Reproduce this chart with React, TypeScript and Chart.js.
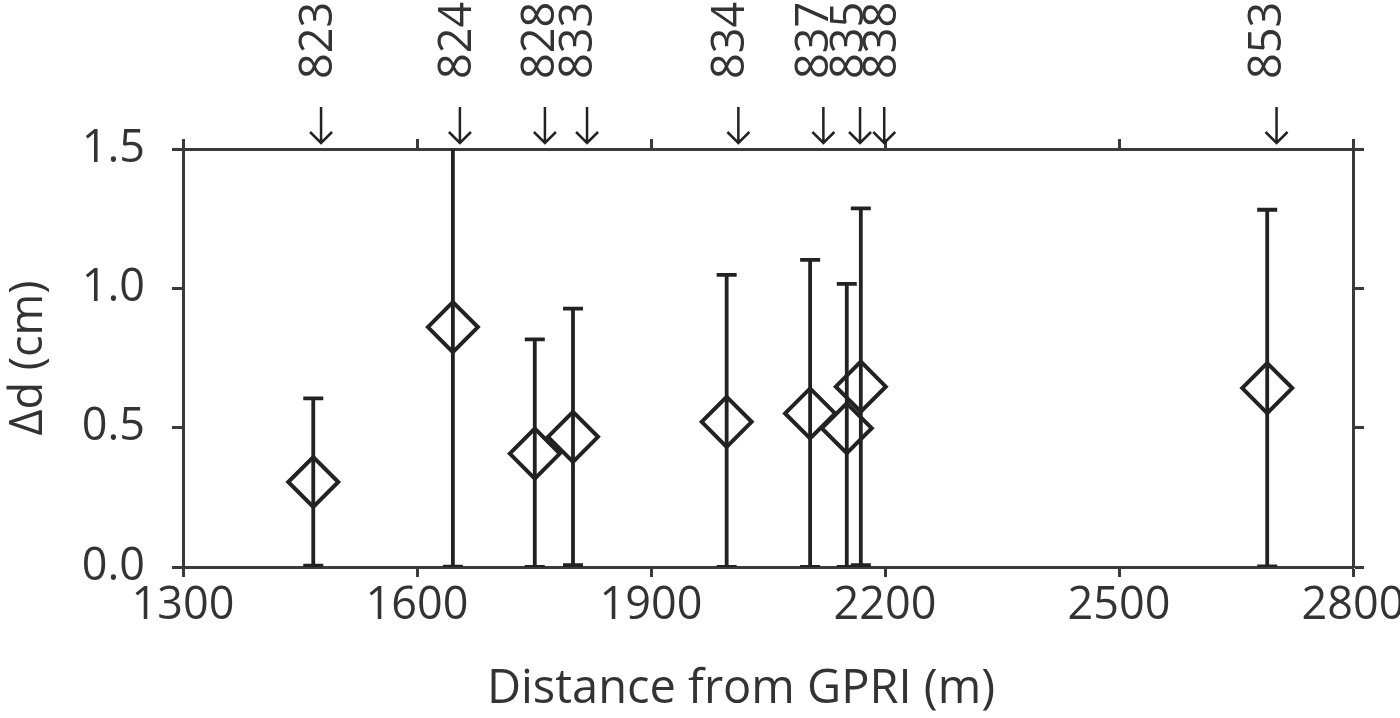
import { useEffect, useRef } from 'react';
import { Chart, registerables } from 'chart.js';

Chart.register(...registerables);

// ---- data ----
const distances = [1467, 1646, 1751, 1800, 1997, 2104, 2151, 2169, 2690];
const deltaD = [0.305, 0.861, 0.407, 0.467, 0.521, 0.551, 0.498, 0.647, 0.642];
const deltaDErr = [0.3, 0.86, 0.41, 0.46, 0.527, 0.551, 0.518, 0.64, 0.64];
const markerIds = ['823', '824', '828', '833', '834', '837', '835', '838', '853'];
const markerArrowDist = [1477, 1655, 1764, 1818, 2012, 2121, 2168, 2199, 2702];
const markerLabelDist = [1470, 1648, 1755, 1804, 1999, 2106, 2151, 2194, 2687];
const xTicks = [1300, 1600, 1900, 2200, 2500, 2800];
const yTicks = [0, 0.5, 1.0, 1.5];
const xTitle = 'Distance from GPRI (m)';
const yTitle = 'Δd (cm)';

const FONT = '"Open Sans", "DejaVu Sans", sans-serif';
const FS = 45;
const FS_X = 45;
const FS_XT = 47;
const TEXT = '#333333';
const AXIS = '#3a3a3a';
const MARK = '#222222';

const errorBars = {
  id: 'errorBars',
  beforeDatasetsDraw(chart: any) {
    const { ctx, chartArea: a, scales } = chart;
    const x = scales.x;
    const y = scales.y;
    ctx.save();
    ctx.beginPath();
    ctx.rect(a.left, a.top, a.right - a.left, a.bottom - a.top);
    ctx.clip();
    ctx.strokeStyle = MARK;
    ctx.lineWidth = 3.8;
    distances.forEach((d, i) => {
      const px = x.getPixelForValue(d);
      const top = y.getPixelForValue(deltaD[i] + deltaDErr[i]);
      const bot = y.getPixelForValue(Math.max(0, deltaD[i] - deltaDErr[i]));
      ctx.beginPath();
      ctx.moveTo(px, top);
      ctx.lineTo(px, bot);
      ctx.moveTo(px - 10, top);
      ctx.lineTo(px + 10, top);
      ctx.moveTo(px - 10, bot);
      ctx.lineTo(px + 10, bot);
      ctx.stroke();
    });
    ctx.restore();
  },
};

const annotations = {
  id: 'annotations',
  afterDraw(chart: any) {
    const { ctx, chartArea: a, scales } = chart;
    const x = scales.x;
    ctx.save();
    ctx.strokeStyle = MARK;
    ctx.fillStyle = TEXT;
    ctx.lineWidth = 2.5;
    markerArrowDist.forEach((d) => {
      const px = x.getPixelForValue(d);
      ctx.beginPath();
      ctx.moveTo(px, a.top - 42);
      ctx.lineTo(px, a.top - 6);
      ctx.moveTo(px - 11, a.top - 17);
      ctx.lineTo(px, a.top - 6);
      ctx.lineTo(px + 11, a.top - 17);
      ctx.stroke();
    });
    ctx.font = `${FS}px ${FONT}`;
    ctx.textAlign = 'left';
    ctx.textBaseline = 'alphabetic';
    markerIds.forEach((id, i) => {
      const px = x.getPixelForValue(markerLabelDist[i]);
      ctx.save();
      ctx.translate(px + 0.357 * FS, a.top - 70);
      ctx.rotate(-Math.PI / 2);
      ctx.fillText(id, 0, 0);
      ctx.restore();
    });
    // x-axis title
    ctx.font = `${FS_XT}px ${FONT}`;
    ctx.textAlign = 'center';
    ctx.textBaseline = 'middle';
    ctx.fillText(xTitle, (a.left + a.right) / 2 - 27, 690);
    ctx.restore();
  },
};

function hScale(position: 'top' | 'bottom', showLabels: boolean, size: number) {
  return {
    type: 'linear' as const,
    position,
    min: 1300,
    max: 2800,
    afterBuildTicks: (s: any) => {
      s.ticks = xTicks.map((v) => ({ value: v }));
    },
    afterFit: (s: any) => {
      s.height = size;
      s.paddingLeft = 0;
      s.paddingRight = 0;
    },
    grid: {
      display: true,
      drawOnChartArea: false,
      drawTicks: true,
      tickLength: 10,
      tickWidth: 3,
      tickColor: AXIS,
    },
    border: { display: true, color: AXIS, width: 3 },
    ticks: {
      display: showLabels,
      font: { family: FONT, size: FS_X },
      color: TEXT,
      padding: 2,
      maxRotation: 0,
      autoSkip: false,
      callback: (v: any) => String(v),
    },
  };
}

function vScale(position: 'left' | 'right', showLabels: boolean, size: number) {
  return {
    type: 'linear' as const,
    position,
    min: 0,
    max: 1.5,
    afterBuildTicks: (s: any) => {
      s.ticks = yTicks.map((v) => ({ value: v }));
    },
    afterFit: (s: any) => {
      s.width = size;
      s.paddingTop = 0;
      s.paddingBottom = 0;
    },
    grid: {
      display: true,
      drawOnChartArea: false,
      drawTicks: true,
      tickLength: 11,
      tickWidth: 3,
      tickColor: AXIS,
    },
    border: { display: true, color: AXIS, width: 3 },
    title: {
      display: showLabels,
      text: yTitle,
      font: { family: FONT, size: FS },
      color: TEXT,
      padding: { top: 2, bottom: 0 },
    },
    ticks: {
      display: showLabels,
      font: { family: FONT, size: FS },
      color: TEXT,
      padding: 27,
      callback: (v: any) => Number(v).toFixed(1),
    },
  };
}

export default function App() {
  const ref = useRef<HTMLCanvasElement | null>(null);
  useEffect(() => {
    if (!ref.current) return;
    const chart = new Chart(ref.current, {
      type: 'scatter',
      data: {
        datasets: [
          {
            label: 'Δd',
            data: distances.map((d, i) => ({ x: d, y: deltaD[i] })),
            pointStyle: 'rectRot',
            pointRadius: 25,
            pointHoverRadius: 25,
            borderWidth: 4,
            borderColor: MARK,
            backgroundColor: 'rgba(0,0,0,0)',
            showLine: false,
            clip: false,
            xAxisID: 'x',
            yAxisID: 'y',
          },
        ],
      },
      options: {
        animation: false,
        responsive: true,
        maintainAspectRatio: false,
        layout: { padding: 0 },
        plugins: { legend: { display: false }, tooltip: { enabled: false } },
        scales: {
          x: hScale('bottom', true, 151),
          x2: hScale('top', false, 149),
          y: vScale('left', true, 183),
          y2: vScale('right', false, 47),
        } as any,
      },
      plugins: [errorBars, annotations],
    });
    if ((document as any).fonts) {
      (document as any).fonts.load(`${FS}px "Open Sans"`).then(() => chart.update());
    }
    return () => chart.destroy();
  }, []);
  return (
    <div style={{ position: 'absolute', left: 0, top: 0, width: 1400, height: 718, background: '#fff' }}>
      <canvas ref={ref} />
    </div>
  );
}
